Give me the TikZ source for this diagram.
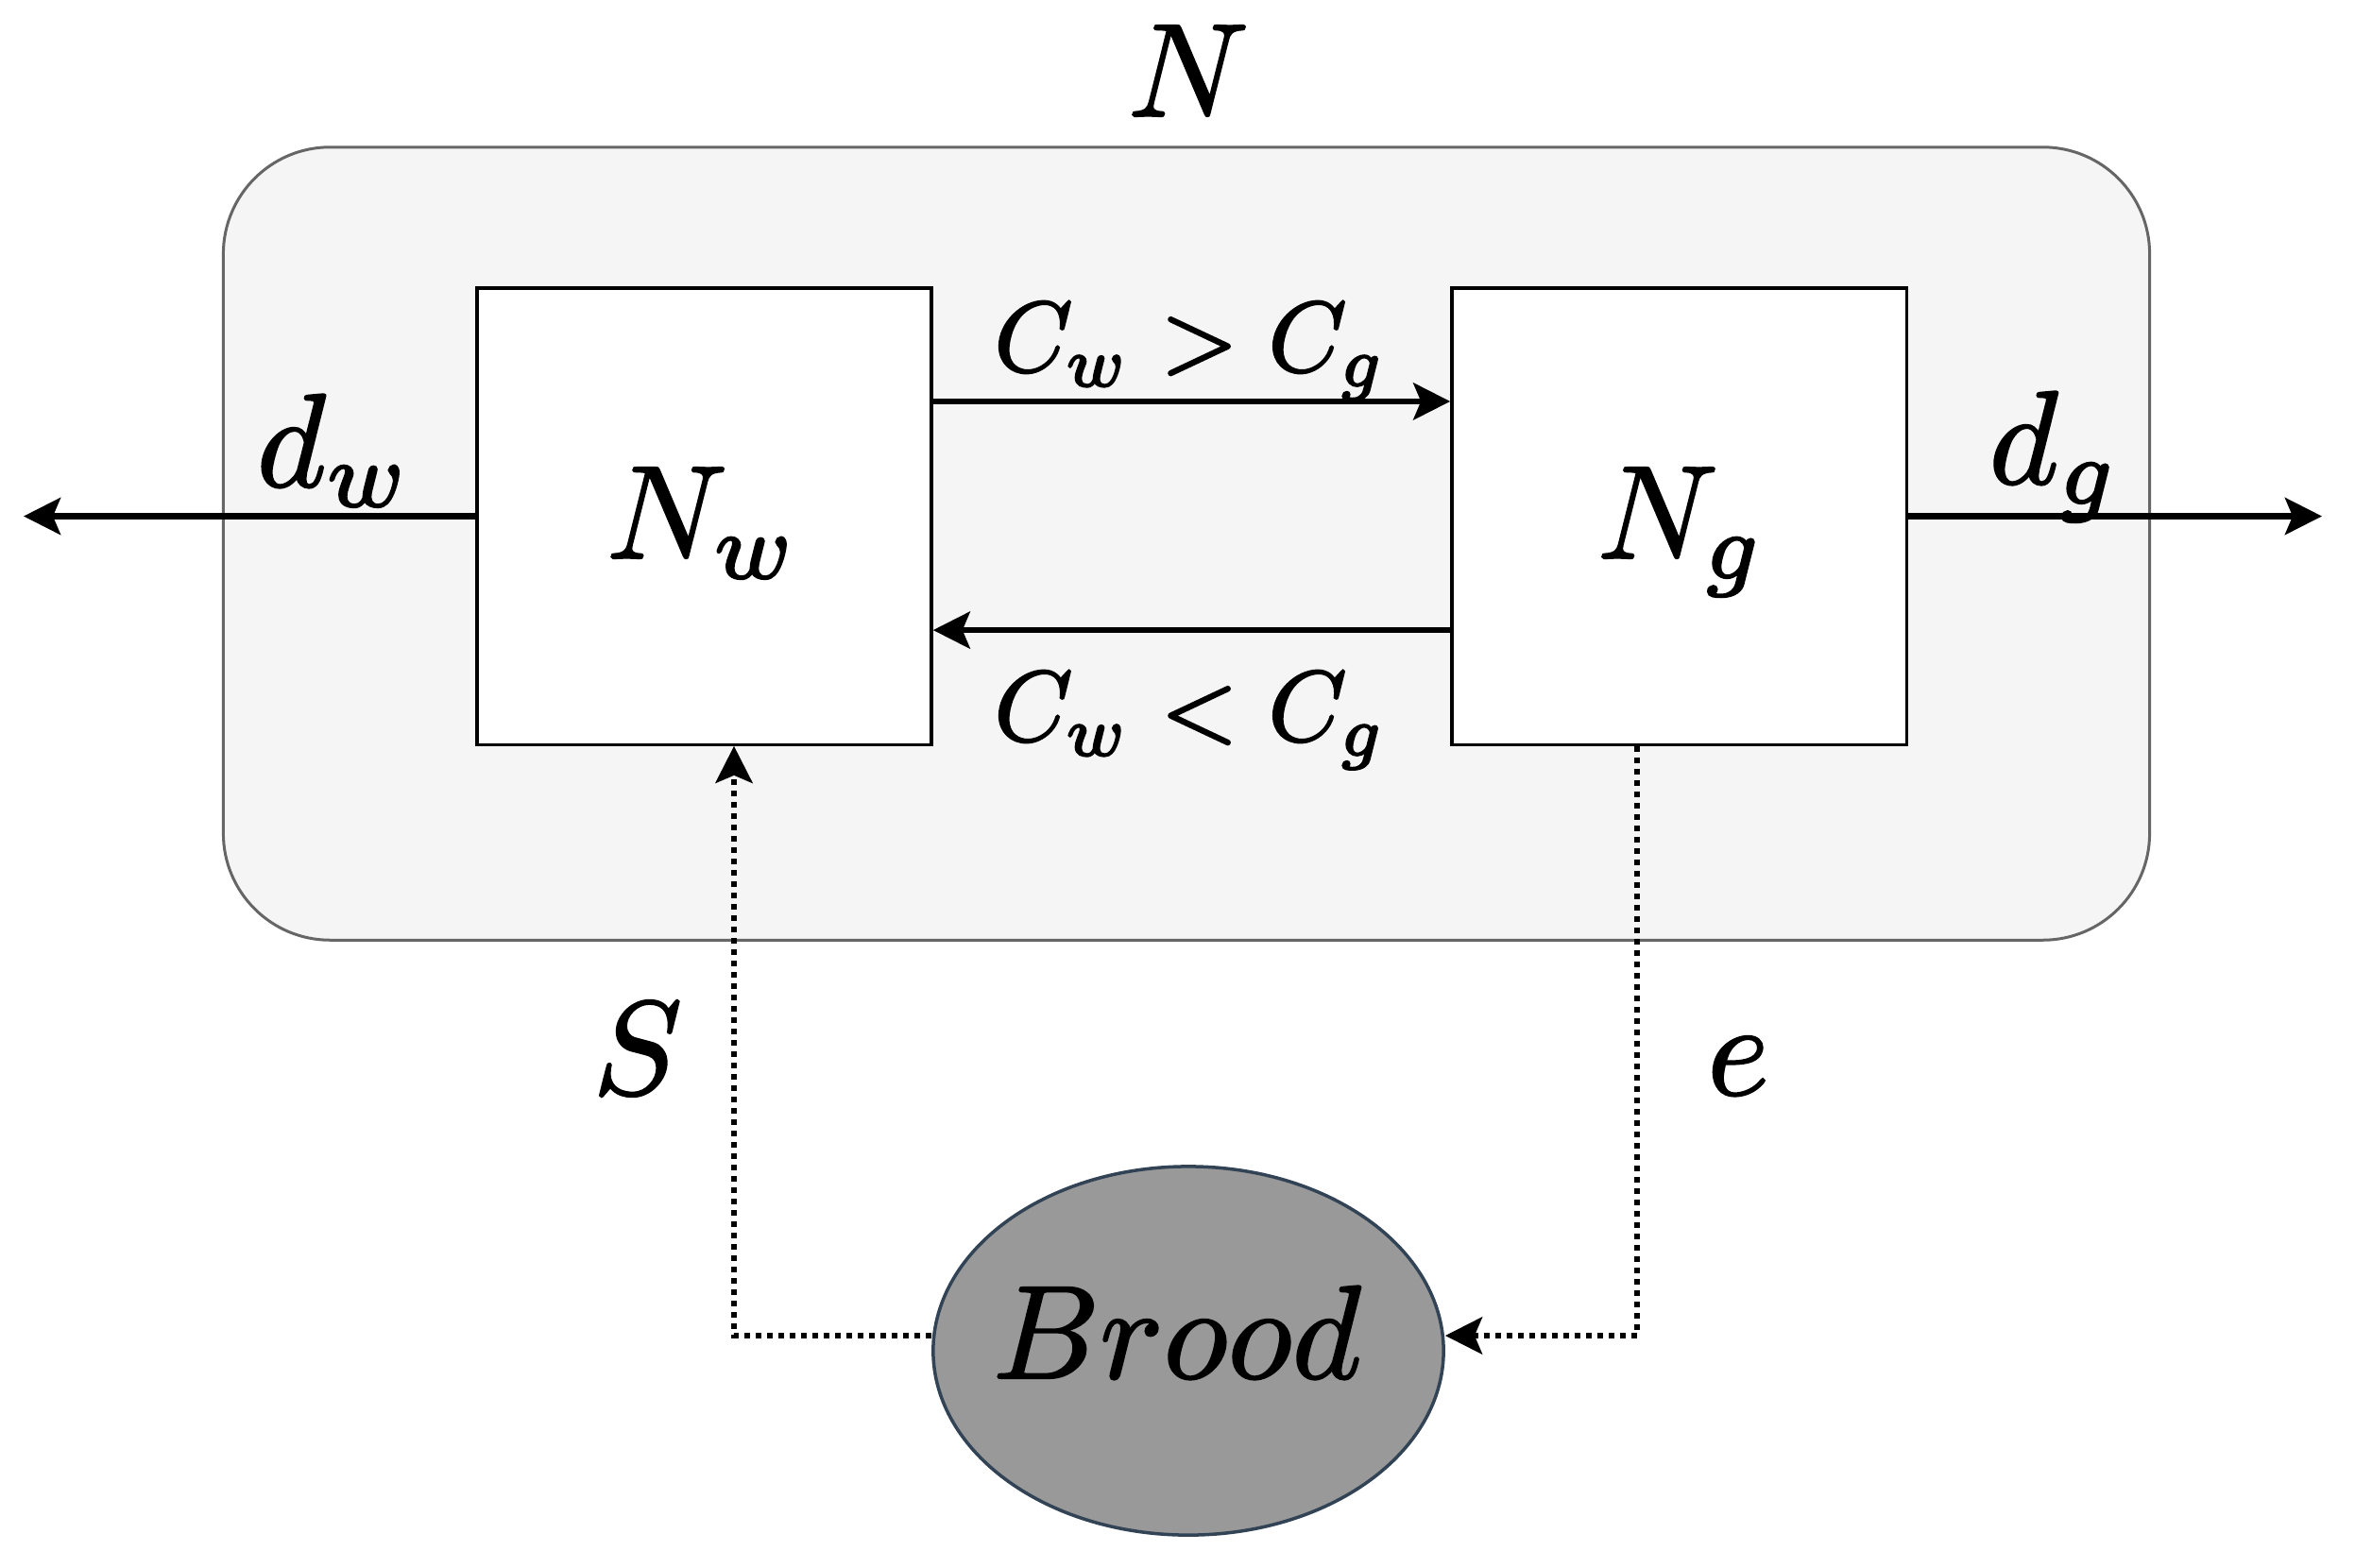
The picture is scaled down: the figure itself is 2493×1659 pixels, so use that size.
\documentclass[tikz,border=0pt]{standalone}
\usetikzlibrary{arrows.meta,shapes.geometric}
\definecolor{outerfill}{HTML}{F5F5F5}
\definecolor{outerline}{HTML}{666666}
\definecolor{broodfill}{HTML}{999999}
\definecolor{broodline}{HTML}{314354}
\begin{document}
\begin{tikzpicture}[x=0.01cm,y=-0.01cm,
  tip/.style={-{Stealth[length=0.39cm,width=0.39cm,inset=0.08cm]}},
  flow/.style={tip, line width=0.063cm},
  dotflow/.style={tip, line width=0.065cm, dash pattern=on 0.06cm off 0.06cm},
  box/.style={draw, fill=white, line width=0.033cm, minimum width=4.81cm, minimum height=4.83cm, inner sep=0},
  lab/.style={inner sep=0, anchor=base, scale=4.0,
    execute at begin node={\special{pdf:code 2 Tr 0.15 w}},
    execute at end node={\special{pdf:code 0 Tr}}},
  clab/.style={inner sep=0, anchor=base, scale=3.0,
    execute at begin node={\special{pdf:code 2 Tr 0.2 w}\thickmuskip=5.5mu},
    execute at end node={\special{pdf:code 0 Tr}}},
]
\useasboundingbox (0,0) rectangle (2493,1659);
\node[draw=outerline, fill=outerfill, line width=0.03cm, rounded corners=1.13cm,
      minimum width=20.38cm, minimum height=8.39cm, inner sep=0] (outer) at (1256,575.5) {};
\node[box] (nw) at (745.5,546.5) {};
\node[box] (ng) at (1777.5,546.5) {};
\coordinate (leftend) at (25,546.5);
\coordinate (rightend) at (2458,546.5);

\draw[flow] ([yshift=1.215cm]nw.east) -- ([yshift=1.215cm]ng.west);
\draw[flow] ([yshift=-1.205cm]ng.west) -- ([yshift=-1.205cm]nw.east);
\draw[flow] (nw.west) -- (leftend);
\draw[flow] (ng.east) -- (rightend);

\node[lab] (Nlab) at (1258,123) {$N$};
\node[lab] (nwlab) at (744,591) {$N_w$};
\node[lab] (nglab) at (1780,591) {$N_g$};
\node[lab] (dwlab) at (354,515) {$d_w$};
\node[lab] (dglab) at (2175,512) {$d_g$};
\node[clab] (c1) at (1260,393) {$C_w > C_g$};
\node[clab] (c2) at (1260,784) {$C_w < C_g$};
\node[lab] (slab) at (675,1158) {$S$};
\node[lab] (elab) at (1840,1159) {$e$};

\node[ellipse, draw=broodline, fill=broodfill, line width=0.035cm,
      minimum width=5.40cm, minimum height=3.90cm, inner sep=0] (brood) at (1258,1430) {};
\node[lab] (broodlab) at (1246,1459) {$Brood$};

\draw[dotflow] ([yshift=0.16cm]brood.west) -| ([xshift=0.315cm]nw.south);
\draw[dotflow] ([xshift=-0.445cm]ng.south) |- ([yshift=0.16cm]brood.east);
\end{tikzpicture}
\end{document}
